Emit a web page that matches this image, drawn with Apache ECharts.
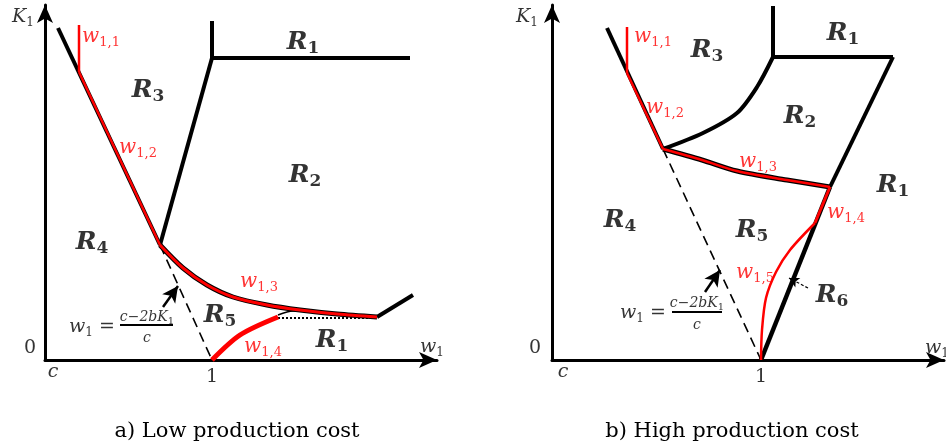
<!DOCTYPE html>
<html lang="en">
<head>
<meta charset="UTF-8">
<title>Regions in (w1, K1)</title>
<script src="https://cdn.jsdelivr.net/npm/echarts@6/dist/echarts.min.js"></script>
<style>
  html, body { margin: 0; padding: 0; background: #fff; }
  #chart { width: 946px; height: 445px; }
</style>
</head>
<body>
<div id="chart"></div>
<script>
// ---- panel a) low production cost ----  (x: w1 units, y: K1 units, read off the figure)
var aBoundLeft   = [[13, 332], [115, 115]];
var aW11         = [[34, 335], [34, 288]];
var aW12         = [[34, 288], [115, 115]];
var aDashed      = [[115, 115], [167, 0]];
var aBoundR3R2   = [[115, 115], [167, 302]];
var aBoundUp     = [[167, 302], [167, 339]];
var aBoundR1     = [[167, 302], [365, 302]];
var aW13         = [[115, 115], [138, 92], [162, 75], [188, 63], [222, 55], [255, 50], [292, 46], [332, 43]];
var aBoundTail   = [[332, 43], [368, 65]];
var aW14         = [[167, 0], [195, 25], [233, 43]];
var aHump        = [[233, 45], [248, 49], [272, 48.5]];
var aDotted      = [[233, 42], [332, 42]];
var aFracBar     = [[75, 35], [128, 35]];
var aArrow       = [[118, 53], [133, 74]];
var aLabels = [
  [-22, 343, 'K', '1', 'ax'],
  [56, 323, 'w', '1,1', 'w'],
  [258, 318, 'R', '1', 'R'],
  [103, 270, 'R', '3', 'R'],
  [93, 212, 'w', '1,2', 'w'],
  [260, 185, 'R', '2', 'R'],
  [47, 118, 'R', '4', 'R'],
  [214, 78, 'w', '1,3', 'w'],
  [175, 45, 'R', '5', 'R'],
  [218, 13, 'w', '1,4', 'w'],
  [287, 20, 'R', '1', 'R'],
  [387, 13, 'w', '1', 'ax'],
  [50, 33, 'w', '1', 'eq'],
  [102, 43, 'c−2bK', '1', 'num'],
  [102, 22, 'c', '', 'num']
];
var aTicks = [[-15, 12, '0'], [8, -12, 'c'], [167, -17, '1']];

// ---- panel b) high production cost ----
var bBoundLeft   = [[55, 332], [111, 211]];
var bW11         = [[75, 333], [75, 287]];
var bW12         = [[75, 287], [111, 211]];
var bDashed      = [[111, 211], [209, 0]];
var bBoundR3R2   = [[111, 211], [151, 227], [185, 247], [205, 273], [221, 303]];
var bBoundUp     = [[221, 303], [221, 354]];
var bBoundR1     = [[221, 303], [341, 303]];
var bBoundRight  = [[341, 303], [278, 173]];
var bBoundR6     = [[278, 173], [209, 0]];
var bW13         = [[111, 211], [150, 200], [185, 189], [235, 180], [278, 173]];
var bW14         = [[278, 173], [263, 137]];
var bW15         = [[263, 137], [238, 110], [224, 88], [214, 62], [210, 30], [209, 0]];
var bFracBar     = [[120, 48], [170, 48]];
var bArrow       = [[153, 68], [168, 90]];
var bArrowR6     = [[256, 72], [237, 82]];
var bLabels = [
  [-25, 343, 'K', '1', 'ax'],
  [101, 323, 'w', '1,1', 'w'],
  [155, 310, 'R', '3', 'R'],
  [291, 327, 'R', '1', 'R'],
  [113, 252, 'w', '1,2', 'w'],
  [248, 244, 'R', '2', 'R'],
  [206, 198, 'w', '1,3', 'w'],
  [341, 175, 'R', '1', 'R'],
  [68, 140, 'R', '4', 'R'],
  [200, 130, 'R', '5', 'R'],
  [294, 147, 'w', '1,4', 'w'],
  [203, 87, 'w', '1,5', 'w'],
  [280, 65, 'R', '6', 'R'],
  [385, 12, 'w', '1', 'ax'],
  [94, 47, 'w', '1', 'eq'],
  [145, 57, 'c−2bK', '1', 'num'],
  [145, 35, 'c', '', 'num']
];
var bTicks = [[-17, 12, '0'], [11, -12, 'c'], [209, -17, '1']];

var captions = ['a) Low production cost', 'b) High production cost'];

var MATH = 'DejaVu Serif';
var styles = {
  R:   { m: { fontFamily: MATH, fontStyle: 'italic', fontWeight: 'bold', fontSize: 25, color: '#000', lineHeight: 30 },
         s: { fontFamily: MATH, fontWeight: 'bold', fontSize: 17, color: '#000', lineHeight: 14, verticalAlign: 'bottom' } },
  w:   { m: { fontFamily: MATH, fontStyle: 'italic', fontSize: 20, color: '#ff0000', lineHeight: 24 },
         s: { fontFamily: MATH, fontSize: 13, color: '#ff0000', lineHeight: 11, verticalAlign: 'bottom' } },
  ax:  { m: { fontFamily: MATH, fontStyle: 'italic', fontSize: 19, color: '#000', lineHeight: 24 },
         s: { fontFamily: MATH, fontSize: 12, color: '#000', lineHeight: 11, verticalAlign: 'bottom' } },
  eq:  { m: { fontFamily: MATH, fontStyle: 'italic', fontSize: 19, color: '#000', lineHeight: 24 },
         s: { fontFamily: MATH, fontSize: 12, color: '#000', lineHeight: 11, verticalAlign: 'bottom' } },
  num: { m: { fontFamily: MATH, fontStyle: 'italic', fontSize: 14, color: '#000', lineHeight: 18 },
         s: { fontFamily: MATH, fontSize: 10, color: '#000', lineHeight: 9, verticalAlign: 'bottom' } }
};

function seg(g, pts, color, width, type, smooth, z) {
  return {
    type: 'line', xAxisIndex: g, yAxisIndex: g, data: pts, symbol: 'none',
    smooth: smooth || false, clip: false, silent: true, z: z || 2,
    lineStyle: { color: color, width: width, type: type || 'solid', cap: 'butt', join: 'round' }
  };
}

function arrow(g, pts, width, type, size) {
  return {
    type: 'line', xAxisIndex: g, yAxisIndex: g, data: [], silent: true, z: 3,
    markLine: {
      silent: true, animation: false, symbol: ['none', 'arrow'], symbolSize: size,
      label: { show: false },
      lineStyle: { color: '#000', width: width, type: type },
      data: [[{ coord: pts[0] }, { coord: pts[1] }]]
    }
  };
}

function labels(g, list) {
  return {
    type: 'scatter', xAxisIndex: g, yAxisIndex: g, symbolSize: 0, clip: false, silent: true, z: 5,
    data: list.map(function (d) {
      var st = styles[d[4]];
      var txt = d[4] === 'eq' ? '{m|' + d[2] + '}{s|' + d[3] + '}{m| = }' :
        '{m|' + d[2] + '}' + (d[3] ? '{s|' + d[3] + '}' : '');
      return { value: [d[0], d[1]], label: { show: true, position: 'inside', formatter: txt,
        color: st.m.color, textBorderWidth: 0, rich: st } };
    })
  };
}

function ticks(g, list) {
  return {
    type: 'scatter', xAxisIndex: g, yAxisIndex: g, symbolSize: 0, clip: false, silent: true, z: 5,
    data: list.map(function (d) {
      var it = d[2] === 'c';
      return { value: [d[0], d[1]], label: { show: true, position: 'inside', formatter: d[2],
        fontFamily: MATH, fontStyle: it ? 'italic' : 'normal', fontSize: 19, color: '#000', textBorderWidth: 0 } };
    })
  };
}

function axis(g, max) {
  return {
    gridIndex: g, type: 'value', min: 0, max: max,
    axisLine: { show: true, onZero: false, symbol: ['none', 'arrow'], symbolSize: [12, 18],
      lineStyle: { color: '#000', width: 3 } },
    axisTick: { show: false }, axisLabel: { show: false }, splitLine: { show: false }
  };
}

var RED = '#ff0000', BLK = '#000';

var option = {
  animation: false,
  backgroundColor: '#fff',
  title: [
    { text: captions[0], left: 232, top: 416, textAlign: 'center',
      textStyle: { fontFamily: 'DejaVu Serif', fontWeight: 'normal', fontSize: 21, color: '#000' } },
    { text: captions[1], left: 727, top: 416, textAlign: 'center',
      textStyle: { fontFamily: 'DejaVu Serif', fontWeight: 'normal', fontSize: 21, color: '#000' } }
  ],
  grid: [
    { left: 45, top: 5, width: 392, height: 355 },
    { left: 552, top: 5, width: 392, height: 355 }
  ],
  xAxis: [axis(0, 392), axis(1, 392)],
  yAxis: [axis(0, 355), axis(1, 355)],
  series: [
    // panel a
    seg(0, aBoundLeft, BLK, 4),
    seg(0, aW12, RED, 2.5, 'solid', false, 3),
    seg(0, aW11, RED, 2.5, 'solid', false, 3),
    seg(0, aDashed, BLK, 1.6, [10, 6]),
    seg(0, aBoundR3R2, BLK, 4),
    seg(0, aBoundUp, BLK, 4),
    seg(0, aBoundR1, BLK, 4),
    seg(0, aW13, BLK, 5, 'solid', 0.3),
    seg(0, aW13, RED, 3, 'solid', 0.3, 3),
    seg(0, aBoundTail, BLK, 4),
    seg(0, aHump, BLK, 1.5, 'solid', 0.3),
    seg(0, aDotted, BLK, 2, [2, 2]),
    seg(0, aW14, RED, 5, 'solid', 0.3, 3),
    seg(0, aFracBar, BLK, 2),
    arrow(0, aArrow, 2.5, 'solid', [12, 16]),
    labels(0, aLabels),
    ticks(0, aTicks),
    // panel b
    seg(1, bBoundLeft, BLK, 4),
    seg(1, bW12, RED, 2.5, 'solid', false, 3),
    seg(1, bW11, RED, 2.5, 'solid', false, 3),
    seg(1, bDashed, BLK, 1.6, [10, 6]),
    seg(1, bBoundR3R2, BLK, 4, 'solid', 0.3),
    seg(1, bBoundUp, BLK, 4),
    seg(1, bBoundR1, BLK, 4),
    seg(1, bBoundRight, BLK, 4),
    seg(1, bBoundR6, BLK, 4.5),
    seg(1, bW13, BLK, 5, 'solid', 0.3),
    seg(1, bW13, RED, 2.5, 'solid', 0.3, 3),
    seg(1, bW14, RED, 3, 'solid', false, 3),
    seg(1, bW15, RED, 2.5, 'solid', 0.3, 3),
    seg(1, bFracBar, BLK, 2),
    arrow(1, bArrow, 2.5, 'solid', [12, 16]),
    arrow(1, bArrowR6, 1.2, [3, 2], [8, 10]),
    labels(1, bLabels),
    ticks(1, bTicks)
  ]
};

var myChart = echarts.init(document.getElementById('chart'));
myChart.setOption(option);
</script>
</body>
</html>
